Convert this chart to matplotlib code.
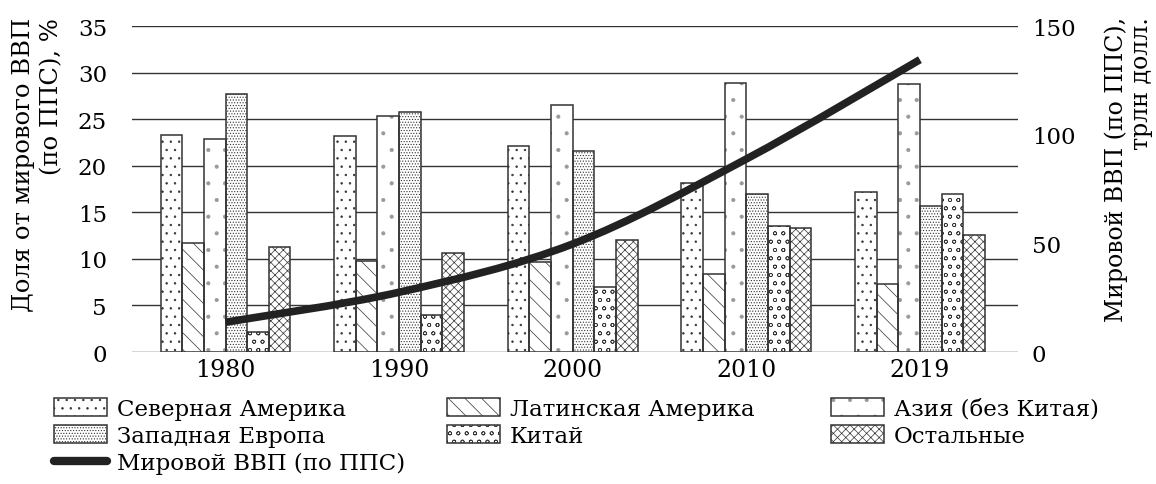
import matplotlib
matplotlib.use("Agg")
import matplotlib.pyplot as plt
from matplotlib.path import Path
from matplotlib.patches import PathPatch, Patch
from matplotlib.lines import Line2D

years = ["1980", "1990", "2000", "2010", "2019"]
regions = ["Северная Америка", "Латинская Америка", "Азия (без Китая)",
           "Западная Европа", "Китай", "Остальные"]
north_america = [23.3, 23.2, 22.1, 18.1, 17.2]
latin_america = [11.7, 9.8, 9.7, 8.4, 7.3]
asia = [22.9, 25.3, 26.5, 28.9, 28.8]
west_europe = [27.7, 25.8, 21.6, 17.0, 15.7]
china = [2.1, 4.0, 7.0, 13.5, 17.0]
others = [11.3, 10.6, 12.0, 13.3, 12.6]
world_gdp = [13.7, 27.5, 49.7, 88.8, 134.5]

shares = [north_america, latin_america, asia, west_europe, china, others]
hatches = ["..", "\\\\", ".", "......", "oo", "xxxx"]
hatch_cols = ["#333333", "#333333", "#999999", "#333333", "#333333", "#333333"]

plt.rcParams["font.family"] = ["DejaVu Serif"]
plt.rcParams["hatch.linewidth"] = 0.5

fig = plt.figure(figsize=(11.56, 4.85), dpi=100)
ax = fig.add_axes([132 / 1156, 132 / 485, 886 / 1156, 326 / 485])
ax2 = ax.twinx()

x = list(range(len(years)))
w = 0.1245
for k, vals in enumerate(shares):
    pos = [xi + (k - 2.5) * w for xi in x]
    # hatch drawn in its own colour, outline on top
    ax.bar(pos, vals, width=w, color="white", edgecolor=hatch_cols[k],
           linewidth=0, hatch=hatches[k], zorder=2)
    ax.bar(pos, vals, width=w, fill=False, edgecolor="#333333",
           linewidth=1.1, zorder=3)

ax.set_xlim(-0.5386, 4.565)
ax.set_ylim(0, 35)
ax.set_yticks(range(0, 36, 5))
ax.yaxis.grid(True, color="#333333", linewidth=1.0, zorder=0)
ax.set_axisbelow(True)
ax.set_xticks(x)
ax.set_xticklabels(years, fontsize=17)
ax.tick_params(axis="x", length=0, pad=4)
ax.tick_params(axis="y", length=0, pad=18, labelsize=16.5)
for s in ax.spines.values():
    s.set_visible(False)

ax2.set_ylim(0, 150)
ax2.set_yticks([0, 50, 100, 150])
ax2.tick_params(axis="y", length=0, pad=10, labelsize=16.5)
for s in ax2.spines.values():
    s.set_visible(False)

# smooth world GDP line (Catmull-Rom -> cubic Bezier through the data points)
pts = list(zip(x, world_gdp))
verts = [pts[0]]
codes = [Path.MOVETO]
n = len(pts)
for i in range(n - 1):
    p0 = pts[max(i - 1, 0)]
    p1 = pts[i]
    p2 = pts[i + 1]
    p3 = pts[min(i + 2, n - 1)]
    c1 = (p1[0] + (p2[0] - p0[0]) / 6, p1[1] + (p2[1] - p0[1]) / 6)
    c2 = (p2[0] - (p3[0] - p1[0]) / 6, p2[1] - (p3[1] - p1[1]) / 6)
    verts += [c1, c2, p2]
    codes += [Path.CURVE4] * 3
ax2.add_patch(PathPatch(Path(verts, codes), fill=False, edgecolor="#222222",
                        linewidth=5.5, capstyle="butt", zorder=5))

fig.text(38 / 1156, 1 - 18 / 485, "Доля от мирового ВВП\n(по ППС), %",
         rotation=90, ha="center", va="top", multialignment="right",
         fontsize=17.5, linespacing=1.3)
fig.text(1129 / 1156, 1 - 17 / 485, "Мировой ВВП (по ППС),\nтрлн долл.",
         rotation=90, ha="center", va="top", multialignment="right",
         fontsize=17, linespacing=1.1)

# legend, three fixed columns
def handle(k):
    fill = Patch(facecolor="white", edgecolor=hatch_cols[k], linewidth=0,
                 hatch=hatches[k])
    edge = Patch(fill=False, edgecolor="#333333", linewidth=1.1)
    return (fill, edge)

line_h = Line2D([], [], color="#222222", linewidth=6, solid_capstyle="round")
columns = [
    ([handle(0), handle(3), line_h], [regions[0], regions[3], "Мировой ВВП (по ППС)"], 54),
    ([handle(1), handle(4)], [regions[1], regions[4]], 447),
    ([handle(2), handle(5)], [regions[2], regions[5]], 831),
]
for hs, ls, px in columns:
    fig.legend(hs, ls, loc="upper left", bbox_to_anchor=(px / 1156, 1 - 399 / 485),
               frameon=False, fontsize=16.5, borderpad=0, borderaxespad=0,
               handlelength=2.3, handleheight=0.8, handletextpad=0.45,
               labelspacing=0.22)

fig.savefig("out.png", dpi=100)
